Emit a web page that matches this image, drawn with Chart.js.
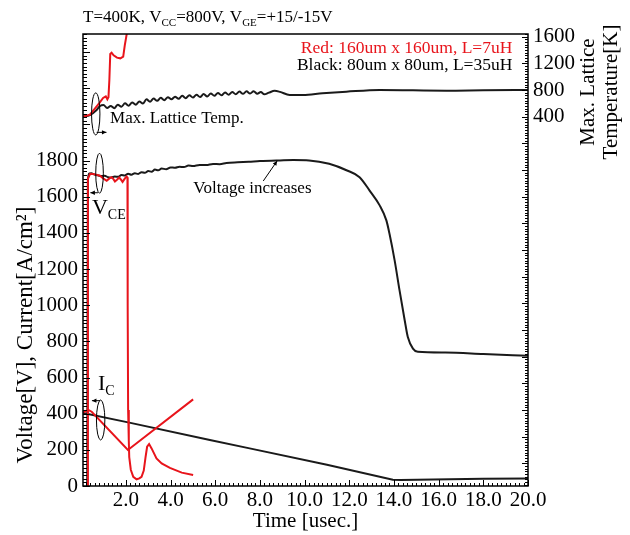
<!DOCTYPE html>
<html>
<head>
<meta charset="utf-8">
<script src="https://cdn.jsdelivr.net/npm/chart.js@4.4.1/dist/chart.umd.min.js"></script>
<style>
  html, body { margin: 0; padding: 0; background: #fff; }
  #wrap { width: 630px; height: 535px; }
</style>
</head>
<body>
<div id="wrap"><canvas id="c" width="630" height="535"></canvas></div>
<script>
// ---- data (time in usec) ----
// Black device: 80um x 80um, L=35uH
const timeVceBlack = [0.27, 0.30, 0.36, 0.45, 0.60, 0.75, 0.90, 1.05, 1.20, 1.35, 1.50, 1.65, 1.80, 1.95, 2.10, 2.25, 2.40, 2.55, 2.70, 2.85, 3.00, 3.15, 3.30, 3.45, 3.60, 3.80, 4.00, 4.20, 4.40, 4.60, 4.80, 5.00, 5.30, 5.60, 5.90, 6.20, 6.50, 7.00, 7.50, 8.00, 8.90, 9.50, 10.20, 11.10, 11.90, 12.46, 12.91, 13.36, 13.66, 13.80, 14.03, 14.25, 14.48, 14.62, 14.85, 15.07, 16.30, 18.00, 20.00];
const vceBlack     = [0, 1690, 1728, 1730, 1722, 1718, 1714, 1716, 1708, 1706, 1712, 1710, 1720, 1718, 1727, 1722, 1730, 1726, 1736, 1732, 1742, 1738, 1750, 1746, 1756, 1752, 1762, 1760, 1766, 1764, 1772, 1770, 1776, 1775, 1781, 1780, 1786, 1790, 1793, 1797, 1801, 1803, 1801, 1782, 1745, 1708, 1634, 1552, 1469, 1395, 1248, 1082, 917, 824, 760, 742, 738, 730, 720];

const timeIcBlack = [0.08, 2.10, 5.76, 7.54, 11.00, 13.95, 14.30, 16.50, 18.00, 20.00];
const icBlack     = [404, 352, 254, 208, 118, 35, 33, 37, 40, 42];

const timeTempBlack = [0.08, 0.39, 0.69, 0.84, 1.00, 1.16, 1.32, 1.48, 1.64, 1.80, 1.96, 2.12, 2.28, 2.44, 2.60, 2.76, 2.92, 3.08, 3.24, 3.40, 3.56, 3.72, 3.88, 4.04, 4.20, 4.36, 4.52, 4.68, 4.84, 5.00, 5.16, 5.32, 5.48, 5.64, 5.80, 5.96, 6.12, 6.28, 6.44, 6.60, 6.76, 6.92, 7.08, 7.24, 7.40, 7.56, 7.72, 7.88, 8.04, 8.20, 8.40, 8.66, 8.90, 9.33, 9.93, 10.80, 11.87, 13.36, 16.34, 18.00, 20.00];
const tempBlack     = [399, 425, 500, 560, 575, 530, 560, 528, 580, 550, 600, 565, 612, 580, 628, 598, 660, 625, 672, 638, 684, 648, 692, 660, 700, 668, 712, 676, 722, 686, 730, 694, 740, 702, 748, 712, 756, 720, 764, 728, 770, 736, 776, 742, 780, 746, 782, 744, 770, 735, 760, 788, 772, 725, 725, 750, 774, 800, 789, 795, 800];

// Red device: 160um x 160um, L=7uH
const timeVceRed = [0.27, 0.30, 0.40, 0.60, 0.84, 1.00, 1.14, 1.25, 1.36, 1.45, 1.51, 1.60, 1.70, 1.78, 1.85, 1.95, 2.03, 2.07, 2.08, 2.10, 2.13, 2.15, 2.22, 2.33, 2.48, 2.60, 2.70, 2.80, 2.88, 2.95, 3.04, 3.15, 3.37, 3.60, 3.97, 4.50, 5.01];
const vceRed     = [0, 1700, 1727, 1724, 1716, 1700, 1688, 1700, 1708, 1696, 1684, 1694, 1706, 1694, 1682, 1700, 1712, 1706, 1000, 420, 250, 160, 90, 51, 37, 42, 51, 85, 160, 217, 232, 208, 153, 125, 100, 74, 61];

const timeIcRed = [0.08, 0.20, 0.31, 0.47, 2.09, 5.01];
const icRed     = [406, 414, 421, 411, 199, 479];

const timeTempRed = [0.08, 0.39, 0.61, 0.80, 0.98, 1.10, 1.17, 1.22, 1.26, 1.30, 1.36, 1.45, 1.60, 1.75, 1.88, 1.95, 2.03, 2.07];
const tempRed     = [400, 430, 520, 600, 680, 705, 660, 690, 950, 1340, 1360, 1320, 1285, 1275, 1300, 1470, 1625, 1800];

// ---- axis ticks ----
const timeTicks = [2, 4, 6, 8, 10, 12, 14, 16, 18, 20];
const leftTicks = [0, 200, 400, 600, 800, 1000, 1200, 1400, 1600, 1800];
const rightTicks = [400, 800, 1200, 1600];

const SERIF = '"Liberation Serif", "Times New Roman", serif';
const RED = '#e8141b';
const BLACK = '#1a1a1a';

function pts(ts, vs) { return ts.map((t, i) => ({ x: t, y: vs[i] })); }

function series(label, ts, vs, color, axis, smooth) {
  const ds = {
    label, data: pts(ts, vs), borderColor: color, backgroundColor: color,
    borderWidth: 2, pointRadius: 0, tension: 0, fill: false, yAxisID: axis
  };
  if (smooth) ds.cubicInterpolationMode = 'monotone';
  return ds;
}

function font(size) { return size + 'px ' + SERIF; }

// text with subscript runs: parts = [[text, isSub], ...]
function richText(ctx, x, y, parts, size, subSize, subDrop) {
  let cx = x;
  for (const [t, sub] of parts) {
    ctx.font = font(sub ? subSize : size);
    ctx.fillText(t, cx, sub ? y + subDrop : y);
    cx += ctx.measureText(t).width;
  }
}

function ellipse(ctx, cx, cy, rx, ry) {
  ctx.beginPath();
  ctx.ellipse(cx, cy, rx, ry, 0, 0, Math.PI * 2);
  ctx.stroke();
}

function arrow(ctx, x1, y1, x2, y2, head) {
  ctx.beginPath();
  ctx.moveTo(x1, y1); ctx.lineTo(x2, y2); ctx.stroke();
  const a = Math.atan2(y2 - y1, x2 - x1);
  ctx.beginPath();
  ctx.moveTo(x2, y2);
  ctx.lineTo(x2 - head * Math.cos(a - 0.45), y2 - head * Math.sin(a - 0.45));
  ctx.lineTo(x2 - head * Math.cos(a + 0.45), y2 - head * Math.sin(a + 0.45));
  ctx.closePath();
  ctx.fill();
}

const decor = {
  id: 'decor',
  afterDatasetsDraw(chart) {
    const { ctx, chartArea: a, scales } = chart;
    const sx = scales.x, sy = scales.y, sr = scales.y2;
    const X = v => sx.getPixelForValue(v);
    const Y = v => sy.getPixelForValue(v);
    ctx.save();
    ctx.strokeStyle = '#000';
    ctx.fillStyle = '#000';

    // inward tick rulers
    ctx.lineWidth = 1;
    ctx.beginPath();
    for (let i = 0; i <= 125; i++) {
      const p = Math.round(Y(i * 20)) + 0.5;
      const len = i % 10 === 0 ? 7 : 4;
      ctx.moveTo(a.left, p); ctx.lineTo(a.left + len, p);
    }
    for (let i = 1; i <= 100; i++) {
      const t = i * 0.2;
      const p = Math.round(X(t)) + 0.5;
      const len = i % 10 === 0 ? 6 : 3;
      ctx.moveTo(p, a.bottom); ctx.lineTo(p, a.bottom - len);
    }
    for (let v = -5120; v <= 1640; v += 40) {
      const p = Math.round(sr.getPixelForValue(v)) + 0.5;
      const len = v % 400 === 0 ? 6 : 3;
      ctx.moveTo(a.right, p); ctx.lineTo(a.right - len, p);
    }
    ctx.stroke();

    // frame
    ctx.lineWidth = 1.5;
    ctx.strokeRect(a.left, a.top, a.right - a.left, a.bottom - a.top);

    // annotations
    ctx.lineWidth = 1;
    ctx.textBaseline = 'alphabetic';
    ctx.textAlign = 'left';

    // lattice temperature marker
    ellipse(ctx, X(0.65), Y(2058), 4.2, 21);
    arrow(ctx, X(0.69), Y(1956), X(1.13), Y(1956), 5);
    ctx.font = font(17);
    ctx.fillText('Max. Lattice Temp.', X(1.29), Y(2008));

    // V_CE marker
    ellipse(ctx, X(0.82), Y(1730), 3.8, 20);
    arrow(ctx, X(0.75), Y(1622), X(0.41), Y(1622), 5);
    richText(ctx, X(0.48), Y(1505), [['V', false], ['CE', true]], 22, 14, 5);

    // I_C marker
    ellipse(ctx, X(0.87), Y(365), 4.2, 20);
    arrow(ctx, X(0.85), Y(472), X(0.48), Y(472), 5);
    richText(ctx, X(0.75), Y(531), [['I', false], ['C', true]], 22, 14, 5);

    // voltage note
    ctx.font = font(17);
    ctx.fillText('Voltage increases', X(5.02), Y(1621));
    arrow(ctx, X(8.15), Y(1687), X(8.77), Y(1798), 5);

    // device key
    ctx.textAlign = 'right';
    ctx.font = font(17.5);
    ctx.fillStyle = RED;
    ctx.fillText('Red: 160um x 160um, L=7uH', X(19.3), Y(2395));
    ctx.fillStyle = '#000';
    ctx.fillText('Black: 80um x 80um, L=35uH', X(19.3), Y(2301));

    // heading
    ctx.textAlign = 'left';
    richText(ctx, 83, 22, [['T=400K, V', false], ['CC', true], ['=800V, V', false], ['GE', true], ['=+15/-15V', false]], 17, 11, 4);

    // left axis title
    ctx.font = font(23);
    ctx.textAlign = 'center';
    ctx.textBaseline = 'middle';
    ctx.save();
    ctx.translate(26, 335);
    ctx.rotate(-Math.PI / 2);
    ctx.fillText('Voltage[V], Current[A/cm\u00B2]', 0, 0);
    ctx.restore();

    // right axis title
    ctx.font = font(21);
    ctx.save();
    ctx.translate(588, 92);
    ctx.rotate(-Math.PI / 2);
    ctx.fillText('Max. Lattice', 0, 0);
    ctx.restore();
    ctx.save();
    ctx.translate(611, 92);
    ctx.rotate(-Math.PI / 2);
    ctx.fillText('Temperature[K]', 0, 0);
    ctx.restore();

    ctx.restore();
  }
};

const tickFont = { family: SERIF, size: 21 };

new Chart(document.getElementById('c'), {
  type: 'line',
  data: {
    datasets: [
      series('Vce red', timeVceRed, vceRed, RED, 'y', false),
      series('Ic red', timeIcRed, icRed, RED, 'y', false),
      series('Temp red', timeTempRed, tempRed, RED, 'y2', false),
      series('Vce black', timeVceBlack, vceBlack, BLACK, 'y', true),
      series('Ic black', timeIcBlack, icBlack, BLACK, 'y', false),
      series('Temp black', timeTempBlack, tempBlack, BLACK, 'y2', true)
    ]
  },
  options: {
    responsive: false,
    devicePixelRatio: 1,
    animation: false,
    layout: { padding: { top: 34, left: 0, right: 0, bottom: 0 } },
    plugins: { legend: { display: false }, tooltip: { enabled: false }, title: { display: false } },
    scales: {
      x: {
        type: 'linear', position: 'bottom', min: 0.08, max: 20,
        grid: { display: false, tickLength: 0 }, border: { display: false },
        afterBuildTicks: s => { s.ticks = timeTicks.map(v => ({ value: v })); },
        afterFit: s => { s.height = 49; },
        ticks: { font: tickFont, color: '#000', padding: 2, maxRotation: 0, autoSkip: false, callback: v => Number(v).toFixed(1) },
        title: { display: true, text: 'Time [usec.]', font: tickFont, color: '#000', padding: { top: 0, bottom: 1 } }
      },
      y: {
        type: 'linear', position: 'left', min: 0, max: 2500,
        grid: { display: false, tickLength: 0 }, border: { display: false },
        afterBuildTicks: s => { s.ticks = leftTicks.map(v => ({ value: v })); },
        afterFit: s => { s.width = 83; },
        ticks: { font: tickFont, color: '#000', padding: 5, autoSkip: false, callback: v => String(v) }
      },
      y2: {
        type: 'linear', position: 'right', min: -5140, max: 1640,
        grid: { display: false, tickLength: 0 }, border: { display: false },
        afterBuildTicks: s => { s.ticks = rightTicks.map(v => ({ value: v })); },
        afterFit: s => { s.width = 102; },
        ticks: { font: tickFont, color: '#000', padding: 5, autoSkip: false, callback: v => String(v) }
      }
    }
  },
  plugins: [decor]
});
</script>
</body>
</html>
